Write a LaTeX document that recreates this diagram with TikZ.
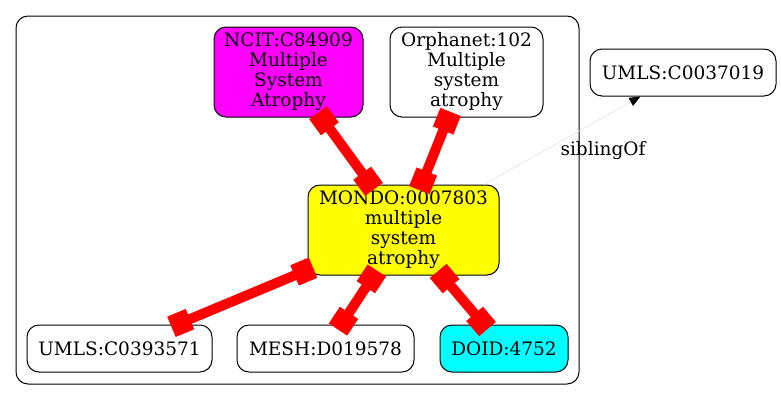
\documentclass[tikz,border=0pt]{standalone}
\usepackage{fontspec}
\setmainfont{DejaVu Serif}
\usetikzlibrary{arrows.meta}
\definecolor{gvmagenta}{RGB}{255,0,255}
\definecolor{gvyellow}{RGB}{255,255,0}
\definecolor{gvcyan}{RGB}{0,255,255}
\definecolor{gvred}{RGB}{255,0,0}
\begin{document}
\begin{tikzpicture}[x=1pt,y=-1pt,
  nd/.style={draw=black, line width=1pt, rounded corners=12pt, align=center,
    font=\fontsize{18.5}{20}\selectfont, inner sep=0pt},
  redge/.style={draw=gvred, line width=10pt,
    {Square[length=20pt,width=22pt]}-{Square[length=20pt,width=22pt]},
    shorten <=-6pt, shorten >=-6pt},
  sedge/.style={draw=black!12, line width=0.6pt,
    -{Triangle[length=11pt,width=9pt,color=black]}},
  lbl/.style={font=\fontsize{18.5}{20}\selectfont, inner sep=0pt}
]
\useasboundingbox (0,0) rectangle (781,400);
\draw[line width=1pt, rounded corners=12pt] (16,16) rectangle (579,384);

\node[nd, fill=gvmagenta, minimum width=149pt, minimum height=90pt] (ncit) at (288.5,72) {NCIT:C84909\\Multiple\\System\\Atrophy};
\node[nd, fill=white, minimum width=153pt, minimum height=90pt] (orph) at (466.5,72) {Orphanet:102\\Multiple\\system\\atrophy};
\node[nd, fill=white, minimum width=186pt, minimum height=47pt] (umlsa) at (683,72.5) {UMLS:C0037019};
\node[nd, fill=gvyellow, minimum width=191pt, minimum height=90pt] (mondo) at (403.5,230) {MONDO:0007803\\multiple\\system\\atrophy};
\node[nd, fill=white, minimum width=185pt, minimum height=47pt] (umlsb) at (119.5,348.5) {UMLS:C0393571};
\node[nd, fill=white, minimum width=177pt, minimum height=47pt] (mesh) at (325.5,348.5) {MESH:D019578};
\node[nd, fill=gvcyan, minimum width=128pt, minimum height=47pt] (doid) at (504,348.5) {DOID:4752};

\draw[redge] (ncit) -- (mondo);
\draw[redge] (orph) -- (mondo);
\draw[redge] (mondo) -- (umlsb);
\draw[redge] (mondo) -- (mesh);
\draw[redge] (mondo) -- (doid);

\draw[sedge] (mondo) -- (umlsa);
\node[lbl] (sib) at (603,151) {siblingOf};
\end{tikzpicture}
\end{document}
